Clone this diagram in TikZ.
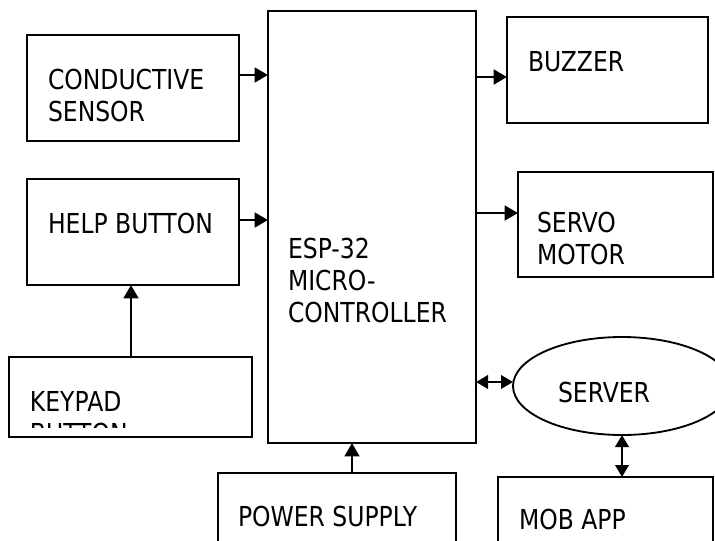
\documentclass[tikz,border=0pt]{standalone}
\usepackage{fontspec}
\setmainfont{DejaVu Sans}[FakeStretch=0.855]
\usetikzlibrary{arrows.meta,shapes.geometric}
\begin{document}
\begin{tikzpicture}[x=0.75pt,y=-0.75pt,
  box/.style={draw,line width=1.4pt,rectangle,inner sep=0pt,outer sep=0pt,anchor=north west},
  oval/.style={draw,line width=1.4pt,ellipse,inner sep=0pt,outer sep=0pt},
  txt/.style={anchor=base west,inner sep=0pt,outer sep=0pt,font=\fontsize{20.6}{24.2}\selectfont},
  arr/.style={line width=2pt,-{Triangle[length=10pt,width=11pt]}},
  darr/.style={line width=2pt,{Triangle[length=9pt,width=10pt]}-{Triangle[length=9pt,width=10pt]}}]
\useasboundingbox (0,0) rectangle (715,540);
\clip (0,0) rectangle (715,540);
\fill[white] (0,0) rectangle (715,540);
% boxes
\node[box,minimum width=159pt,minimum height=79.5pt] (cond) at (27,35) {};
\node[box,minimum width=159pt,minimum height=79.5pt] (help) at (27,179) {};
\node[box,minimum width=182.25pt,minimum height=60pt] (keypad) at (9,357) {};
\node[box,minimum width=156pt,minimum height=324pt] (mcu) at (268,11) {};
\node[box,minimum width=150.75pt,minimum height=79.5pt] (buzzer) at (507,17) {};
\node[box,minimum width=146.25pt,minimum height=78.75pt] (servo) at (518,172) {};
\node[box,minimum width=178.5pt,minimum height=80pt] (power) at (218,473) {};
\node[box,minimum width=161.25pt,minimum height=80pt] (mob) at (498,477) {};
\node[oval,minimum width=163.5pt,minimum height=73.5pt] (server) at (622,386) {};
% texts
\node[txt] (tcond1) at (48,89) {CONDUCTIVE};
\node[txt] (tcond2) at (48,121) {SENSOR};
\node[txt] (thelp) at (48,233) {HELP BUTTON};
\node[txt] (tkey1) at (30,411) {KEYPAD};
\begin{scope}
\clip (0,0) rectangle (715,427);
\node[txt] (tkey2) at (30,443) {BUTTON};
\end{scope}
\node[txt] (tmcu1) at (288,258) {ESP-32};
\node[txt] (tmcu2) at (288,290) {MICRO-};
\node[txt] (tmcu3) at (288,322) {CONTROLLER};
\node[txt] (tbuz) at (528,71) {BUZZER};
\node[txt] (tservo1) at (537,232) {SERVO};
\node[txt] (tservo2) at (537,264) {MOTOR};
\node[txt] (tserver) at (558,402) {SERVER};
\node[txt] (tpower) at (238,526) {POWER SUPPLY};
\node[txt] (tmob) at (519,529) {MOB APP};
% connectors
\draw[arr] (cond.east |- 0,75) -- (mcu.west |- 0,75);
\draw[arr] (help.east |- 0,220) -- (mcu.west |- 0,220);
\draw[arr] (mcu.east |- 0,77) -- (buzzer.west |- 0,77);
\draw[arr] (mcu.east |- 0,213) -- (servo.west |- 0,213);
\draw[arr] (keypad.north -| 131,0) -- (help.south -| 131,0);
\draw[arr] (power.north -| 352,0) -- (mcu.south -| 352,0);
\draw[darr] (mcu.east |- 0,382) -- (server.west |- 0,382);
\draw[darr] (server.south) -- (server.south |- mob.north);
\end{tikzpicture}
\end{document}
